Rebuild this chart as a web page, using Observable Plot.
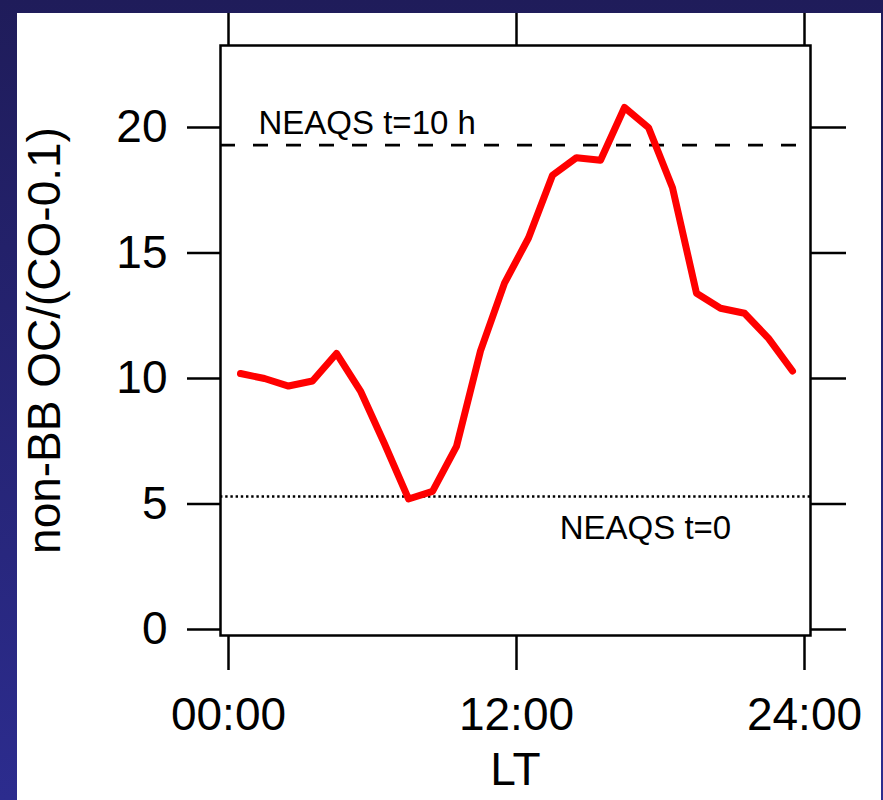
<!DOCTYPE html>
<html><head><meta charset="utf-8">
<script src="https://cdn.jsdelivr.net/npm/d3@7"></script>
<script src="https://cdn.jsdelivr.net/npm/@observablehq/plot@0.6"></script>
<style>
html,body{margin:0;padding:0;}
body{width:883px;height:800px;background:linear-gradient(#1f1c5a,#2c2c8e);position:relative;overflow:hidden;}
#panel{position:absolute;left:17px;top:13px;width:864px;height:787px;background:#fff;}
#chart{position:absolute;left:0;top:0;}
</style></head><body><div id="panel"></div><div id="chart"></div>
<script>
// Local time (hour of day) and non-BB OC/(CO-0.1) ratio
const hours = [0.5,1.5,2.5,3.5,4.5,5.5,6.5,7.5,8.5,9.5,10.5,11.5,12.5,13.5,14.5,15.5,16.5,17.5,18.5,19.5,20.5,21.5,22.5,23.5];
const ratio = [10.2,10.0,9.7,9.9,11.0,9.5,7.4,5.2,5.5,7.3,11.1,13.8,15.6,18.1,18.8,18.7,20.8,20.0,17.6,13.4,12.8,12.6,11.6,10.3];
const xTicks = [0,12,24];
const xTickLabels = ["00:00","12:00","24:00"];
const yTicks = [0,5,10,15,20];
const yLabel = "non-BB OC/(CO-0.1)";
const xLabel = "LT";
const refLabels = ["NEAQS t=10 h","NEAQS t=0"];
const refValues = [19.3,5.3];
const refLabelHours = [1.25,13.8];

const data = hours.map((h,i)=>({h, v: ratio[i]}));
const font = "'Liberation Sans', Arial, sans-serif";

const chart = Plot.plot({
  width: 883, height: 800,
  marginLeft: 220, marginRight: 73, marginTop: 45, marginBottom: 165,
  style: {background: "transparent", fontFamily: font, color: "#000"},
  x: {domain: [-1/3, 24.25]},
  y: {domain: [-0.24, 23.27]},
  marks: [
    Plot.ruleY([refValues[0]], {stroke: "#000", strokeWidth: 2.8, strokeDasharray: "15,18"}),
    Plot.ruleY([refValues[1]], {stroke: "#000", strokeWidth: 2.4, strokeDasharray: "2.4,2.8"}),
    Plot.text([refLabels[0]], {x: refLabelHours[0], y: refValues[0], dy: -22, text: d=>d, textAnchor: "start", fontSize: 33, fill: "#000", fontFamily: font}),
    Plot.text([refLabels[1]], {x: refLabelHours[1], y: refValues[1], dy: 32, text: d=>d, textAnchor: "start", fontSize: 33, fill: "#000", fontFamily: font}),
    Plot.line(data, {x: "h", y: "v", stroke: "#ff0000", strokeWidth: 7, strokeLinejoin: "round"}),
    Plot.frame({stroke: "#000", strokeWidth: 2.5}),
    Plot.axisY({anchor: "left", ticks: yTicks, tickSize: 33, tickPadding: 20, fontSize: 46, strokeWidth: 2.5, label: null}),
    Plot.axisY({anchor: "right", ticks: yTicks, tickSize: 35, tickFormat: () => "", strokeWidth: 2.5, label: null}),
    Plot.axisX({anchor: "bottom", ticks: xTicks, tickSize: 35, tickPadding: 27, fontSize: 46, strokeWidth: 2.5, label: null,
      tickFormat: d => xTickLabels[xTicks.indexOf(d)]}),
    Plot.axisX({anchor: "top", ticks: xTicks, tickSize: 33, tickFormat: () => "", strokeWidth: 2.5, label: null}),
    Plot.text([yLabel], {frameAnchor: "left", dx: -175, rotate: -90, textAnchor: "middle", lineAnchor: "middle", text: d=>d, fontSize: 46, fill: "#000", fontFamily: font}),
    Plot.text([xLabel], {frameAnchor: "bottom", dy: 135, textAnchor: "middle", lineAnchor: "middle", text: d=>d, fontSize: 46, fill: "#000", fontFamily: font})
  ]
});
document.getElementById("chart").appendChild(chart);
</script></body></html>
